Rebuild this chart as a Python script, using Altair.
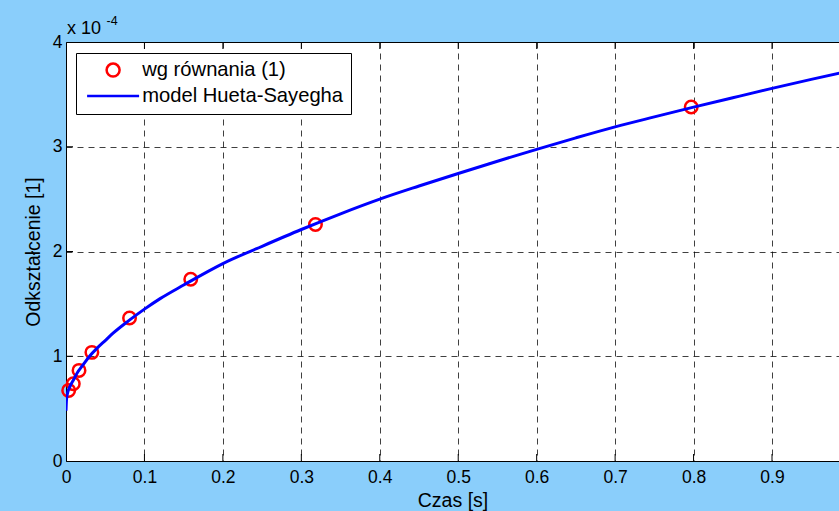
import altair as alt
import pandas as pd

# ---- data ----
series_names = ["wg równania (1)", "model Hueta-Sayegha"]

t_meas = [0.0034, 0.0093, 0.0166, 0.033, 0.081, 0.159, 0.318, 0.797]
eps_meas = [0.674, 0.738, 0.865, 1.037, 1.365, 1.735, 2.258, 3.38]

t_model = [0.0, 0.0005, 0.001, 0.002, 0.005, 0.01, 0.015, 0.02, 0.03, 0.04,
           0.05, 0.06, 0.08, 0.1, 0.12, 0.15, 0.2, 0.25, 0.3, 0.35, 0.4,
           0.45, 0.5, 0.55, 0.6, 0.65, 0.7, 0.75, 0.8, 0.85, 0.9, 0.95, 1.0]
eps_model = [0.48, 0.57, 0.61, 0.65, 0.71, 0.78, 0.85, 0.90, 1.00, 1.08,
             1.15, 1.22, 1.34, 1.45, 1.55, 1.68, 1.885, 2.05, 2.21, 2.36, 2.50,
             2.625, 2.745, 2.862, 2.975, 3.085, 3.19, 3.285, 3.378, 3.468, 3.557, 3.643, 3.727]

x_ticks = [0, 0.1, 0.2, 0.3, 0.4, 0.5, 0.6, 0.7, 0.8, 0.9]
y_ticks = [0, 1, 2, 3, 4]
exp_text = ["x 10"]
exp_power = ["-4"]

# ---- layout ----
W, H = 773, 419
XMAX = 0.9854
FONT = "Liberation Sans"
BG = "#8ACEFB"

pts = pd.DataFrame({"t": t_meas, "eps": eps_meas, "series": series_names[0]})
mdl = pd.DataFrame({"t": t_model, "eps": eps_model, "series": series_names[1]})
xt = pd.DataFrame({"t": x_ticks[1:]})
yt = pd.DataFrame({"eps": y_ticks[1:-1]})

xscale = alt.Scale(domain=[0, XMAX], nice=False, zero=False)
yscale = alt.Scale(domain=[0, 4], nice=False)

nb = "\u00a0"
legend = alt.Legend(
    title=None, orient="none", legendX=10, legendY=11,
    fillColor="white", strokeColor="black", cornerRadius=0,
    padding=7, symbolOffset=20, labelOffset=19, labelLimit=500,
    labelFont=FONT, labelFontSize=20.2, labelColor="black",
    symbolSize=169, symbolStrokeWidth=2.5, rowPadding=4,
    labelExpr="datum.label + '" + nb * 3 + "'",
)
color = alt.Color("series:N", scale=alt.Scale(domain=series_names, range=["#ff0000", "#0000ff"]), legend=legend)
shape = alt.Shape("series:N", scale=alt.Scale(domain=series_names, range=["circle", "M-4,0H4"]), legend=legend)

x_axis = alt.Axis(
    values=x_ticks, format=".1~f", orient="bottom", labelFlush=False,
    labelFont=FONT, labelFontSize=17.5, labelColor="black", labelPadding=7,
    ticks=False, domain=True, domainColor="black", domainWidth=1,
    grid=True, gridDash=[6, 5], gridColor="black", gridOpacity=0.75, gridWidth=1,
    title="Czas [s]", titleFont=FONT, titleFontSize=19.5, titleFontWeight="normal",
    titleColor="black", titlePadding=6,
)
y_axis = alt.Axis(
    values=y_ticks, format="d", orient="left", labelFlush=False,
    labelFont=FONT, labelFontSize=17.5, labelColor="black", labelPadding=4,
    ticks=False, domain=True, domainColor="black", domainWidth=1,
    grid=True, gridDash=[6, 5], gridColor="black", gridOpacity=0.75, gridWidth=1,
    title="Odkształcenie [1]", titleFont=FONT, titleFontSize=19.5, titleFontWeight="normal",
    titleColor="black", titlePadding=9,
)
top_axis = alt.Axis(orient="top", labels=False, ticks=False, grid=False, domain=True,
                    domainColor="black", domainWidth=1, title=None)

points = alt.Chart(pts).mark_point(filled=False, size=156, strokeWidth=2.5, opacity=1).encode(
    x=alt.X("t:Q", scale=xscale, axis=x_axis),
    y=alt.Y("eps:Q", scale=yscale, axis=y_axis),
    color=color,
    shape=shape,
)

line = alt.Chart(mdl).mark_line(strokeWidth=3, interpolate="monotone", clip=True).encode(
    x=alt.X("t:Q", scale=xscale, axis=None),
    y=alt.Y("eps:Q", scale=yscale, axis=None),
    color=color,
)

ticks_bottom = alt.Chart(xt).mark_rule(color="black", strokeWidth=1).encode(
    x=alt.X("t:Q", scale=xscale, axis=None),
    y=alt.value(H), y2=alt.value(H - 7),
)
ticks_top = alt.Chart(xt).mark_rule(color="black", strokeWidth=1).encode(
    x=alt.X("t:Q", scale=xscale, axis=top_axis),
    y=alt.value(0), y2=alt.value(7),
)
ticks_left = alt.Chart(yt).mark_rule(color="black", strokeWidth=1).encode(
    y=alt.Y("eps:Q", scale=yscale, axis=None),
    x=alt.value(0), x2=alt.value(7),
)

exp1 = alt.Chart(pd.DataFrame({"txt": exp_text})).mark_text(
    font=FONT, fontSize=18, color="black", align="left", baseline="alphabetic"
).encode(text="txt:N", x=alt.value(1), y=alt.value(-8.5))
exp2 = alt.Chart(pd.DataFrame({"txt": exp_power})).mark_text(
    font=FONT, fontSize=12.5, color="black", align="left", baseline="alphabetic"
).encode(text="txt:N", x=alt.value(40.5), y=alt.value(-17))

chart = alt.layer(points, line, ticks_bottom, ticks_top, ticks_left, exp1, exp2).resolve_axis(
    x="independent", y="independent"
).properties(
    width=W, height=H,
    autosize=alt.AutoSizeParams(type="none"),
    padding={"left": 66, "top": 42, "right": 0, "bottom": 50},
    background=BG,
).configure_view(stroke=None, fill="white")

chart.save("out.html", embed_options={"renderer": "svg", "actions": False})
